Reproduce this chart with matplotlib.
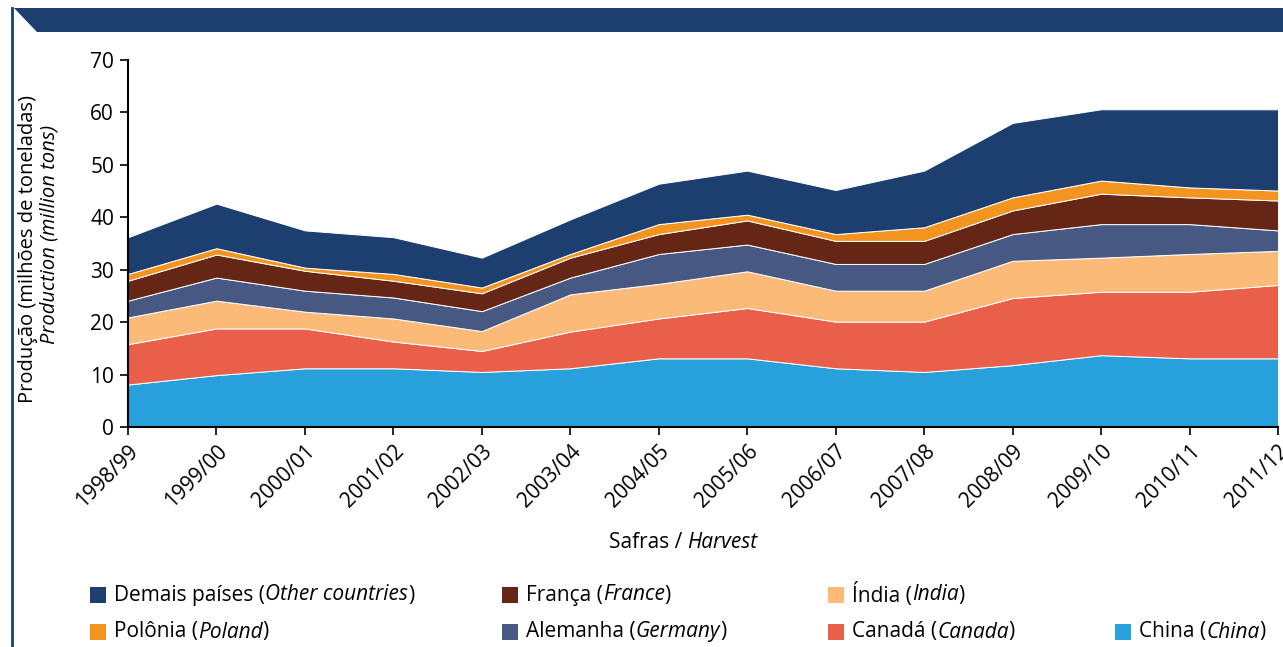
import numpy as np
import matplotlib
matplotlib.use('Agg')
import matplotlib.pyplot as plt
from matplotlib.patches import Rectangle, Polygon

plt.rcParams['font.family'] = ['Open Sans', 'DejaVu Sans']

harvests = ['1998/99', '1999/00', '2000/01', '2001/02', '2002/03', '2003/04', '2004/05',
            '2005/06', '2006/07', '2007/08', '2008/09', '2009/10', '2010/11', '2011/12']

# production per country, million tons (bottom to top of the stack)
china = [8.1, 9.9, 11.2, 11.2, 10.5, 11.2, 13.1, 13.1, 11.2, 10.5, 11.8, 13.7, 13.1, 13.1]
canada = [7.7, 8.9, 7.6, 5.1, 4.0, 7.0, 7.6, 9.6, 8.9, 9.6, 12.8, 12.1, 12.7, 14.0]
india = [5.1, 5.3, 3.2, 4.4, 3.8, 7.1, 6.6, 7.0, 5.9, 5.9, 7.1, 6.5, 7.2, 6.5]
germany = [3.2, 4.4, 4.0, 4.0, 3.8, 3.2, 5.7, 5.1, 5.1, 5.1, 5.1, 6.4, 5.7, 3.9]
france = [3.8, 4.4, 3.8, 3.2, 3.4, 3.8, 3.8, 4.6, 4.4, 4.4, 4.5, 5.8, 5.1, 5.7]
poland = [1.3, 1.2, 0.6, 1.3, 1.1, 0.7, 1.9, 1.1, 1.3, 2.6, 2.5, 2.5, 1.9, 1.9]
others = [7.0, 8.5, 7.1, 7.0, 5.7, 6.6, 7.7, 8.4, 8.4, 10.8, 14.2, 13.6, 14.9, 15.5]

series = [china, canada, india, germany, france, poland, others]
colors = ['#28a0db', '#e95f4a', '#fbba78', '#475982', '#652615', '#f39420', '#1c3f70']
NAVY = '#1c3f70'

fig = plt.figure(figsize=(12.83, 6.47), dpi=100)
ax = fig.add_axes([128 / 1283, 1 - 427 / 647, 1150 / 1283, 367 / 647])

x = np.arange(len(harvests))
ax.stackplot(x, *series, colors=colors, edgecolor='white', linewidth=0.7)

ax.set_xlim(0, len(harvests) - 1)
ax.set_ylim(0, 70)
ax.set_yticks(range(0, 71, 10))
ax.set_xticks(x)
ax.set_xticklabels(harvests, rotation=45, ha='right', va='top', rotation_mode='anchor')
ax.tick_params(axis='both', labelsize=15, length=6, width=1.2, direction='out', pad=4)
for s in ['top', 'right']:
    ax.spines[s].set_visible(False)
for s in ['left', 'bottom']:
    ax.spines[s].set_linewidth(1.5)
ax.set_zorder(2)

fs = 15


def rich_text(x0, y0, parts, rotation=0, ha='left', size=fs):
    """Draw text pieces one after another, each with its own font style."""
    fig.canvas.draw()
    r = fig.canvas.get_renderer()
    items = []
    total = 0
    for txt, style in parts:
        t = fig.text(0, 0, txt, fontsize=size, style=style, va='center', rotation=rotation)
        bb = t.get_window_extent(renderer=r)
        w = bb.height if rotation else bb.width
        items.append((t, w))
        total += w
    pos = x0 if not rotation else y0
    if ha == 'center':
        pos -= total / 2
    for t, w in items:
        if rotation:
            t.set_position((x0 / 1283, pos / 647))
            t.set_ha('center')
            t.set_va('bottom')
        else:
            t.set_position((pos / 1283, y0 / 647))
        pos += w


# y-axis title (two lines, second in italics)
rich_text(28, 647 - 249, [('Produção (milhões de toneladas)', 'normal')], rotation=90,
          ha='center', size=14.5)
rich_text(50, 647 - 234, [('Production (million tons)', 'italic')], rotation=90,
          ha='center', size=14.5)

# x-axis title
rich_text(683, 647 - 543, [('Safras / ', 'normal'), ('Harvest', 'italic')], ha='center')

# legend
legend_items = [
    (90, 595, 'Demais países (', 'Other countries', NAVY),
    (502, 595, 'França (', 'France', '#652615'),
    (828, 595, 'Índia (', 'India', '#fbba78'),
    (90, 632, 'Polônia (', 'Poland', '#f39420'),
    (502, 632, 'Alemanha (', 'Germany', '#475982'),
    (828, 632, 'Canadá (', 'Canada', '#e95f4a'),
    (1115, 632, 'China (', 'China', '#28a0db'),
]
for lx, ly, pt, en, c in legend_items:
    fig.patches.append(Rectangle((lx / 1283, (647 - ly - 8) / 647), 16 / 1283, 16 / 647,
                                 transform=fig.transFigure, facecolor=c, edgecolor='none'))
    rich_text(lx + 24, 647 - ly, [(pt, 'normal'), (en, 'italic'), (')', 'normal')])

# header banner and left border
fig.patches.append(Polygon([(14 / 1283, 1 - 8 / 647), (1, 1 - 8 / 647), (1, 1 - 32 / 647),
                            (37 / 1283, 1 - 32 / 647)], closed=True,
                           transform=fig.transFigure, facecolor=NAVY, edgecolor='none'))
fig.add_artist(plt.Line2D([12 / 1283, 12 / 1283], [0, 1 - 8 / 647], transform=fig.transFigure,
                          color=NAVY, linewidth=2))

fig.savefig('out.png', dpi=100)
